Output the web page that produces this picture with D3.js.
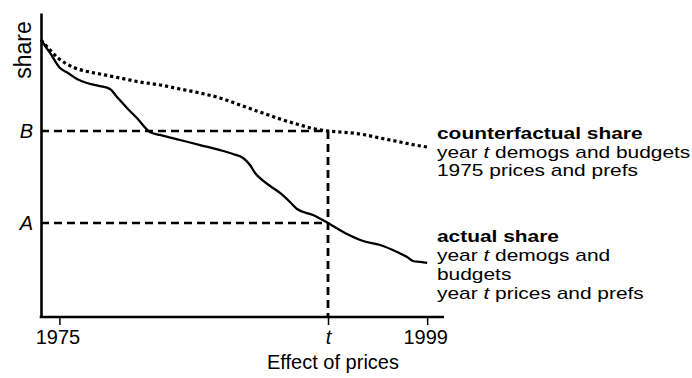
<!DOCTYPE html>
<html>
<head>
<meta charset="utf-8">
<script src="https://cdn.jsdelivr.net/npm/d3@7"></script>
<style>
  html, body { margin: 0; padding: 0; background: #fff; }
  svg { display: block; font-family: "Liberation Sans", Arial, Helvetica, sans-serif; }
</style>
</head>
<body>
<svg id="chart" width="692" height="378"></svg>
<script>
// Years on the horizontal axis, share on the vertical axis (arbitrary units)
const actualYears = [1973.8, 1974.39, 1975.04, 1975.56, 1976.15, 1976.8, 1977.65, 1978.3, 1978.76,
  1979.41, 1980.06, 1980.91, 1981.57, 1982.87, 1984.18, 1985.48, 1986.33, 1986.99, 1987.44,
  1987.77, 1988.23, 1988.75, 1989.4, 1990.05, 1990.51, 1991.55, 1992.53, 1993.77, 1994.82,
  1995.93, 1997.04, 1997.69, 1998.08, 1998.54, 1999.0];
const actualShare = [36.45, 34.74, 32.76, 32.11, 31.32, 30.79, 30.39, 30.0, 28.95,
  27.5, 26.18, 24.34, 23.95, 23.29, 22.63, 21.97, 21.45, 20.92, 20.0,
  18.95, 18.03, 17.24, 16.32, 15.13, 14.21, 13.42, 12.37, 10.92, 10.0,
  9.47, 8.55, 7.89, 7.37, 7.24, 7.11];

const counterYears = [1973.8, 1974.39, 1974.91, 1975.37, 1976.02, 1976.67, 1977.65, 1978.96, 1980.26,
  1981.57, 1982.87, 1984.18, 1985.48, 1986.79, 1988.09, 1989.4, 1990.71, 1991.69, 1992.53,
  1993.32, 1994.62, 1995.93, 1997.23, 1998.21, 1999.0];
const counterShare = [36.45, 35.13, 34.08, 33.42, 32.76, 32.37, 31.97, 31.45, 30.92,
  30.53, 30.0, 29.47, 28.82, 27.89, 26.97, 26.05, 25.26, 24.74, 24.47,
  24.34, 24.08, 23.55, 23.03, 22.63, 22.37];

const tYear = 1992.53;
const levelB = 24.47;   // counterfactual share at t
const levelA = 12.37;   // actual share at t

const xTickValues = [1975, tYear, 1999];
const xTickLabels = ["1975", "t", "1999"];
const yLevelLabels = ["B", "A"];
const yLevelValues = [levelB, levelA];

const counterLabel = ["counterfactual share", "year |t| demogs and budgets", "1975 prices and prefs"];
const actualLabel = ["actual share", "year |t| demogs and", "budgets", "year |t| prices and prefs"];

const svg = d3.select("#chart");

const x = d3.scaleLinear().domain([1973.8, 2000.1]).range([41, 444]);
const y = d3.scaleLinear().domain([0, 40]).range([317, 13]);

// Reference lines at A and B, and the vertical drop at t
const ref = svg.append("g").attr("fill", "none").attr("stroke", "#000");
yLevelValues.forEach(v => {
  ref.append("line")
    .attr("x1", x.range()[0]).attr("x2", x(tYear))
    .attr("y1", y(v)).attr("y2", y(v))
    .attr("stroke-width", 2.4)
    .attr("stroke-dasharray", "8,5");
});
ref.append("line")
  .attr("x1", x(tYear)).attr("x2", x(tYear))
  .attr("y1", y(levelB)).attr("y2", y(0))
  .attr("stroke-width", 2.8)
  .attr("stroke-dasharray", "8,5");

// Curves
const line = d3.line()
  .x(d => x(d[0]))
  .y(d => y(d[1]))
  .curve(d3.curveMonotoneX);

svg.append("path")
  .datum(d3.zip(counterYears, counterShare))
  .attr("d", line)
  .attr("fill", "none")
  .attr("stroke", "#000")
  .attr("stroke-width", 3.2)
  .attr("stroke-dasharray", "3.2,3");

svg.append("path")
  .datum(d3.zip(actualYears, actualShare))
  .attr("d", line)
  .attr("fill", "none")
  .attr("stroke", "#000")
  .attr("stroke-width", 2.3)
  .attr("stroke-linejoin", "round");

// Axes
const xAxis = d3.axisBottom(x)
  .tickValues(xTickValues)
  .tickFormat((d, i) => xTickLabels[i])
  .tickSize(8)
  .tickSizeOuter(0);

const gx = svg.append("g")
  .attr("transform", `translate(0,${y(0)})`)
  .call(xAxis);
gx.select(".domain").attr("stroke-width", 2.6).attr("d", `M${x.range()[0] - 1.3},0H${x.range()[1]}`);
gx.selectAll(".tick line").attr("stroke-width", 1.5);
gx.selectAll(".tick text")
  .attr("y", 27).attr("dy", null).attr("dx", (d, i) => i === 1 ? 0 : -2)
  .attr("fill", "#000")
  .attr("font-size", 20)
  .attr("font-family", "Liberation Sans, Arial, sans-serif")
  .attr("font-style", (d, i) => xTickLabels[i] === "t" ? "italic" : "normal");

const yAxis = d3.axisLeft(y).tickValues([]).tickSizeOuter(0);
const gy = svg.append("g")
  .attr("transform", `translate(${x.range()[0]},0)`)
  .call(yAxis);
gy.select(".domain").attr("stroke-width", 2.6);

// Level labels B and A
yLevelValues.forEach((v, i) => {
  svg.append("text")
    .attr("x", 33).attr("y", y(v) + 7)
    .attr("text-anchor", "end")
    .attr("font-size", 20)
    .attr("font-style", "italic")
    .text(yLevelLabels[i]);
});

// Axis titles
svg.append("text")
  .attr("transform", "translate(31,50) rotate(-90)")
  .attr("text-anchor", "middle")
  .attr("font-size", 23)
  .text("share");

svg.append("text")
  .attr("x", 333).attr("y", 369)
  .attr("text-anchor", "middle")
  .attr("font-size", 20)
  .text("Effect of prices");

// Series annotations: first line bold, |t| marks the italic year symbol
function annotate(lines, x0, y0, lh) {
  const g = svg.append("g")
    .attr("transform", `translate(${x0},${y0}) scale(1.23,1)`)
    .attr("font-size", 17);
  lines.forEach((s, i) => {
    const t = g.append("text").attr("x", 0).attr("y", lh[i]);
    if (i === 0) t.attr("font-weight", "bold");
    s.split("|").forEach((part, k) => {
      t.append("tspan")
        .attr("font-style", k % 2 === 1 ? "italic" : "normal")
        .text(part);
    });
  });
}
annotate(counterLabel, 437, 139, [0, 19, 37.5]);
annotate(actualLabel, 437, 242, [0, 19, 38, 57]);
</script>
</body>
</html>
